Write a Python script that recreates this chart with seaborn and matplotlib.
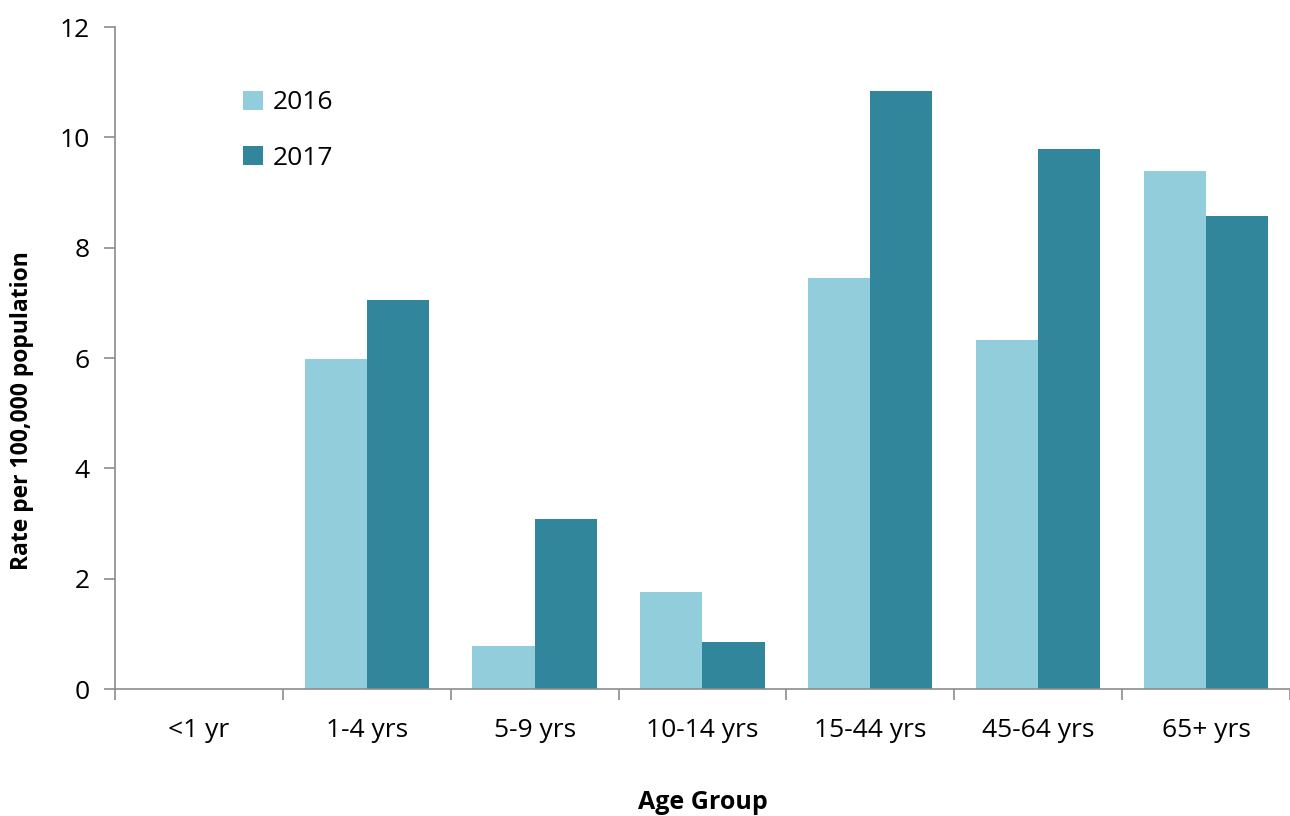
import matplotlib
matplotlib.use("Agg")
import matplotlib.pyplot as plt
import seaborn as sns
import pandas as pd
from matplotlib.ticker import FixedLocator

age_groups = ["<1 yr", "1-4 yrs", "5-9 yrs", "10-14 yrs", "15-44 yrs", "45-64 yrs", "65+ yrs"]
rate_2016 = [0.0, 5.98, 0.78, 1.76, 7.45, 6.33, 9.39]
rate_2017 = [0.0, 7.05, 3.08, 0.85, 10.84, 9.79, 8.57]
years = ["2016", "2017"]
y_ticks = [0, 2, 4, 6, 8, 10, 12]

df = pd.DataFrame({
    "Age Group": age_groups * 2,
    "Year": [years[0]] * len(age_groups) + [years[1]] * len(age_groups),
    "Rate": rate_2016 + rate_2017,
})

sns.set_style("white")
plt.rcParams["font.family"] = ["Open Sans", "DejaVu Sans"]
plt.rcParams["text.color"] = "black"
plt.rcParams["axes.labelcolor"] = "black"

fig = plt.figure(figsize=(12.9, 8.16), dpi=100)
ax = fig.add_axes([0.0891, 0.1556, 0.9109, 0.8113])

sns.barplot(data=df, x="Age Group", y="Rate", hue="Year", order=age_groups,
            hue_order=years, palette=["#92CDDC", "#31869B"], width=0.74,
            gap=0, saturation=1, linewidth=0, ax=ax)

ax.set_xlim(-0.5, len(age_groups) - 0.5)
ax.set_ylim(0, 12)
ax.set_yticks(y_ticks)
ax.tick_params(axis="y", labelsize=19, length=8, width=1.2, color="#8c8c8c",
               labelcolor="black", direction="out", left=True, pad=10)
ax.tick_params(axis="x", which="major", labelsize=19, length=0, pad=21,
               labelcolor="black")
ax.xaxis.set_minor_locator(FixedLocator([i - 0.5 for i in range(len(age_groups) + 1)]))
ax.tick_params(axis="x", which="minor", length=8, width=1.2, color="#8c8c8c",
               direction="out", bottom=True)

for side in ["top", "right"]:
    ax.spines[side].set_visible(False)
for side in ["left", "bottom"]:
    ax.spines[side].set_color("#8c8c8c")
    ax.spines[side].set_linewidth(1.2)

ax.set_xlabel("Age Group", fontsize=18, fontweight="bold", va="center")
ax.xaxis.set_label_coords(0.5, -0.171)
ax.set_ylabel("Rate per 100,000 population", fontsize=16.5, fontweight="bold", va="center")
ax.yaxis.set_label_coords(-0.079, 0.42)

handles, labels = ax.get_legend_handles_labels()
ax.legend(handles, labels, loc="upper left", bbox_to_anchor=(0.089, 0.94),
          frameon=False, fontsize=19, handlelength=0.75, handleheight=0.75,
          handletextpad=0.35, labelspacing=1.15)

fig.savefig("out.png", dpi=100)
